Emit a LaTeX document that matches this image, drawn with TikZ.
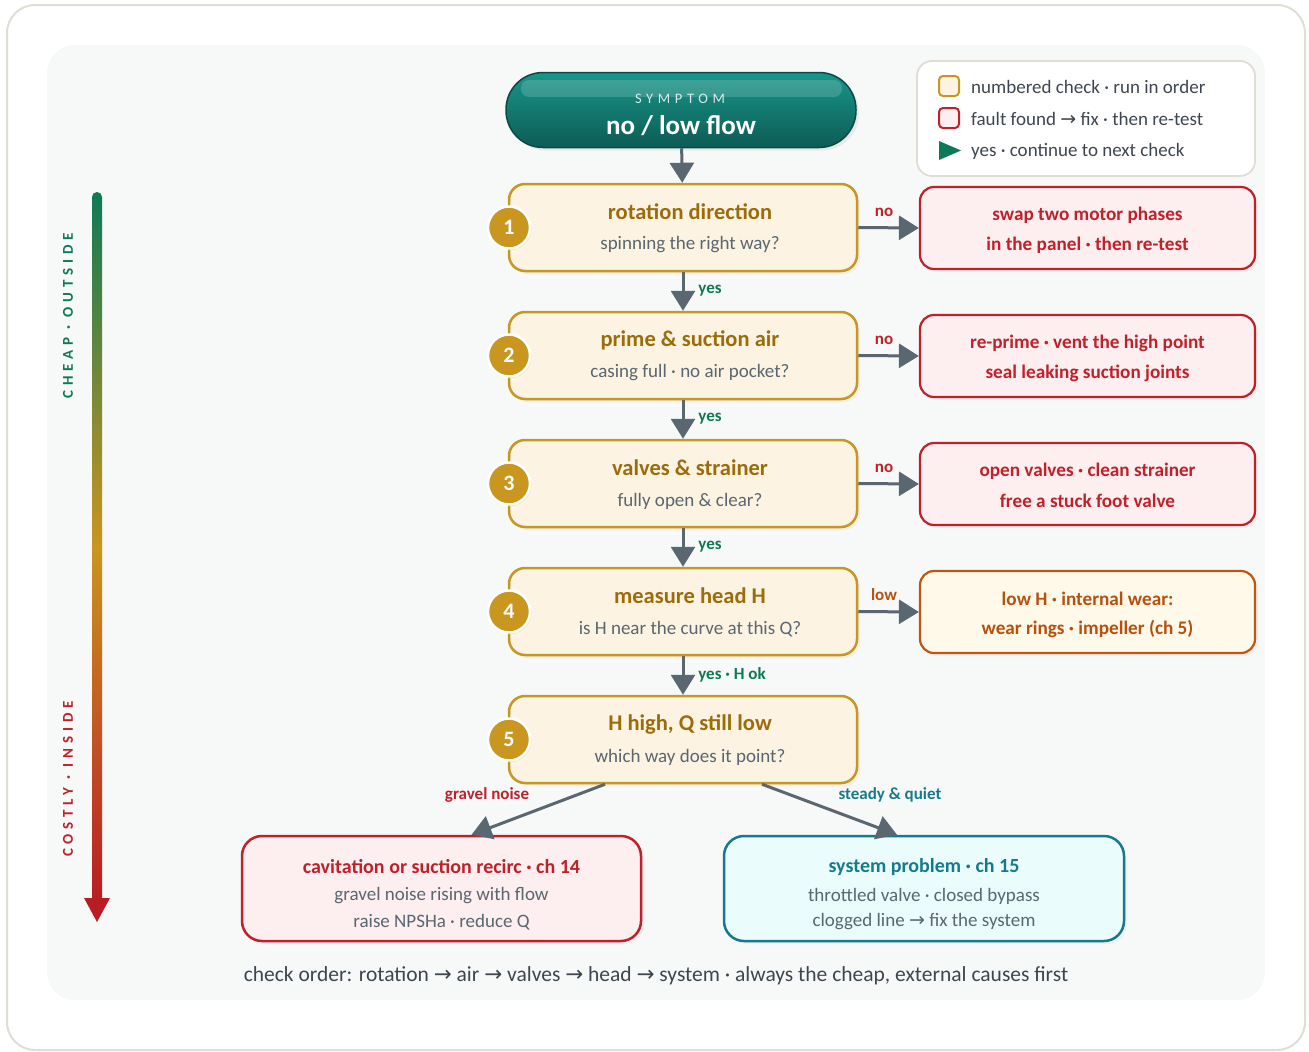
\documentclass[tikz,border=0pt]{standalone}
\usepackage{fontspec}
\setmainfont{Carlito}
\newfontfamily\symf{DejaVu Sans}
\newfontfamily\spacedf[LetterSpace=32]{Carlito}
\usetikzlibrary{arrows.meta,shadows}
\definecolor{gold}{HTML}{C9961F}
\definecolor{goldtxt}{HTML}{9C6C0A}
\definecolor{checkfill}{HTML}{FCF3E2}
\definecolor{redc}{HTML}{C0202A}
\definecolor{redfill}{HTML}{FDEEF0}
\definecolor{orgc}{HTML}{C0560F}
\definecolor{orgtxt}{HTML}{B5500E}
\definecolor{orgfill}{HTML}{FEF9E8}
\definecolor{tealc}{HTML}{177A8C}
\definecolor{tealfill}{HTML}{EBFCFD}
\definecolor{greenc}{HTML}{0E7A55}
\definecolor{grayc}{HTML}{5A6670}
\definecolor{darkt}{HTML}{3D4650}
\definecolor{framec}{HTML}{E0DDD5}
\definecolor{panel}{HTML}{F7F9F9}
\definecolor{arrred}{HTML}{B81C24}
\definecolor{pilltop}{HTML}{18968A}
\definecolor{pillbot}{HTML}{0D5C55}
\newcommand{\ra}{{\symf\char"2192}}
\newcommand{\md}{\textperiodcentered}
\tikzset{
  shd/.style={drop shadow={opacity=0.08,shadow xshift=3pt,shadow yshift=-3pt}},
  checkbox/.style={rectangle,rounded corners=16pt,draw=gold,line width=2.5pt,fill=checkfill,minimum width=348pt,minimum height=87pt,shd},
  fixbox/.style={rectangle,rounded corners=14pt,draw=redc,line width=2.2pt,fill=redfill,minimum width=335pt,minimum height=82pt,shd},
  numc/.style={circle,fill=gold,draw=white,line width=2.5pt,minimum size=42pt,inner sep=0pt,text=white,font=\fontsize{22}{22}\selectfont\bfseries,drop shadow={opacity=0.1,shadow xshift=1.5pt,shadow yshift=-1.5pt}},
  ttl/.style={font=\fontsize{22.5}{24}\selectfont\bfseries,text=goldtxt,inner sep=0pt},
  sub/.style={font=\fontsize{19}{21}\selectfont,text=grayc,inner sep=0pt},
  fixt/.style={font=\fontsize{19.2}{21}\selectfont\bfseries,text=redc,inner sep=0pt},
  conn/.style={draw=grayc,line width=3pt,-{Triangle[length=20pt,width=24pt]}},
  lbl/.style={font=\fontsize{17}{18}\selectfont\bfseries,inner sep=0pt},
  leg/.style={font=\fontsize{19}{21}\selectfont,text=darkt,anchor=west,inner sep=0pt}
}
\begin{document}
\begin{tikzpicture}[x=1pt,y=-1pt]
\useasboundingbox (0,0) rectangle (1309,1052);
% frame & panel
\draw[framec,line width=2pt,fill=white,rounded corners=28pt] (7,5) rectangle (1305,1050);
\fill[panel,rounded corners=28pt] (47,45) rectangle (1265,1000);

% gradient axis
\shade[top color=greenc,bottom color=arrred,middle color=gold!95!orange,rounded corners=5pt] (92,192) rectangle (102,902);
\fill[arrred] (84,898) -- (110,898) -- (97,922) -- cycle;
\node[rotate=90,text=greenc,font=\fontsize{15}{15}\selectfont\bfseries\spacedf] (cheap) at (68,316) {CHEAP \md{} OUTSIDE};
\node[rotate=90,text=redc,font=\fontsize{15}{15}\selectfont\bfseries\spacedf] (costly) at (68,779) {COSTLY \md{} INSIDE};

% legend
\node[rectangle,rounded corners=15pt,draw=framec,line width=1.8pt,fill=white,minimum width=338pt,minimum height=115pt] (legend) at (1086,118.5) {};
\node[rectangle,rounded corners=4pt,draw=gold,line width=2pt,fill=checkfill,minimum size=20pt,inner sep=0pt] (lg1) at (949,86) {};
\node[rectangle,rounded corners=4pt,draw=redc,line width=2pt,fill=redfill,minimum size=20pt,inner sep=0pt] (lg2) at (949,118) {};
\fill[greenc] (939,141) -- (961,150.5) -- (939,160) -- cycle;
\node[leg] (lt1) at (971,87) {numbered check \md{} run in order};
\node[leg] (lt2) at (971,119) {fault found \ra{} fix \md{} then re-test};
\node[leg] (lt3) at (971,151) {yes \md{} continue to next check};

% symptom pill
\node[rectangle,rounded corners=37pt,minimum width=350pt,minimum height=75pt,top color=pilltop,bottom color=pillbot,draw=pillbot!80!black,line width=1.5pt,drop shadow={opacity=0.12,shadow xshift=3pt,shadow yshift=-3pt}] (sym) at (681,110) {};
\fill[white,opacity=0.16,rounded corners=8pt] (521,80) rectangle (842,97);
\node[text=white!85!teal,font=\fontsize{14.5}{15}\selectfont\spacedf,inner sep=0pt] (symt) at (680,99) {SYMPTOM};
\node[text=white,font=\fontsize{27}{30}\selectfont\bfseries,inner sep=0pt] (symm) at (681,126) {no / low flow};

% check boxes
\foreach \n/\y in {1/227.5,2/355.5,3/483.5,4/611.5,5/739.5}{
  \node[checkbox] (c\n) at (683,\y) {};
  \node[numc] (n\n) at (509,\y) {\n};
}
\node[ttl] (t1) at (690,212) {rotation direction};
\node[sub] (s1) at (690,245) {spinning the right way?};
\node[ttl] (t2) at (690,340) {prime \& suction air};
\node[sub] (s2) at (690,373) {casing full \md{} no air pocket?};
\node[ttl] (t3) at (690,468) {valves \& strainer};
\node[sub] (s3) at (690,501) {fully open \& clear?};
\node[ttl] (t4) at (690,596) {measure head H};
\node[sub] (s4) at (690,629) {is H near the curve at this Q?};
\node[ttl] (t5) at (690,724) {H high, Q still low};
\node[sub] (s5) at (690,757) {which way does it point?};

% fix boxes
\node[fixbox] (f1) at (1087.5,228) {};
\node[fixt] (f1a) at (1087.5,215) {swap two motor phases};
\node[fixt] (f1b) at (1087.5,245) {in the panel \md{} then re-test};
\node[fixbox] (f2) at (1087.5,356) {};
\node[fixt] (f2a) at (1087.5,343) {re-prime \md{} vent the high point};
\node[fixt] (f2b) at (1087.5,373) {seal leaking suction joints};
\node[fixbox] (f3) at (1087.5,484) {};
\node[fixt] (f3a) at (1087.5,471) {open valves \md{} clean strainer};
\node[fixt] (f3b) at (1087.5,501) {free a stuck foot valve};
\node[fixbox,draw=orgc,fill=orgfill] (f4) at (1087.5,612) {};
\node[fixt,text=orgtxt] (f4a) at (1087.5,599) {low H \md{} internal wear:};
\node[fixt,text=orgtxt] (f4b) at (1087.5,629) {wear rings \md{} impeller (ch 5)};

% outcome boxes
\node[rectangle,rounded corners=20pt,draw=redc,line width=2.5pt,fill=redfill,minimum width=399pt,minimum height=105pt,shd] (cav) at (441.5,888.5) {};
\node[fixt,font=\fontsize{20}{22}\selectfont\bfseries] (cava) at (441.5,867) {cavitation or suction recirc \md{} ch 14};
\node[sub,font=\fontsize{19}{21}\selectfont] (cavb) at (441.5,896) {gravel noise rising with flow};
\node[sub,font=\fontsize{19}{21}\selectfont] (cavc) at (441.5,922) {raise NPSHa \md{} reduce Q};
\node[rectangle,rounded corners=20pt,draw=tealc,line width=2.5pt,fill=tealfill,minimum width=400pt,minimum height=105pt,shd] (sys) at (924,888.5) {};
\node[fixt,text=tealc,font=\fontsize{20}{22}\selectfont\bfseries] (sysa) at (924,867) {system problem \md{} ch 15};
\node[sub,font=\fontsize{19}{21}\selectfont] (sysb) at (924,896) {throttled valve \md{} closed bypass};
\node[sub,font=\fontsize{19}{21}\selectfont] (sysc) at (924,922) {clogged line \ra{} fix the system};

% connectors
\draw[conn] (sym) -- (c1);
\foreach \a/\b in {1/2,2/3,3/4,4/5}{ \draw[conn] (c\a) -- (c\b); }
\foreach \n in {1,2,3,4}{ \draw[conn] (c\n.east) -- (f\n.west); }
\draw[conn] ([xshift=-78pt]c5.south) -- ([xshift=30pt]cav.north);
\draw[conn] ([xshift=79pt]c5.south) -- ([xshift=-27pt]sys.north);

% labels
\node[lbl,text=redc] (no1) at (884,212) {no};
\node[lbl,text=redc] (no2) at (884,340) {no};
\node[lbl,text=redc] (no3) at (884,468) {no};
\node[lbl,text=orgtxt] (low4) at (884,595) {low};
\node[lbl,text=greenc] (y1) at (710,291) {yes};
\node[lbl,text=greenc] (y2) at (710,419) {yes};
\node[lbl,text=greenc] (y3) at (710,547) {yes};
\node[lbl,text=greenc] (y4) at (732,675) {yes \md{} H ok};
\node[lbl,text=redc] (gn) at (487,795) {gravel noise};
\node[lbl,text=tealc] (sq) at (890,795) {steady \& quiet};

% footer
\node[text=darkt,font=\fontsize{21.5}{24}\selectfont,inner sep=0pt] (foot) at (656,976) {check order: rotation \ra{} air \ra{} valves \ra{} head \ra{} system \md{} always the cheap, external causes first};
\end{tikzpicture}
\end{document}
